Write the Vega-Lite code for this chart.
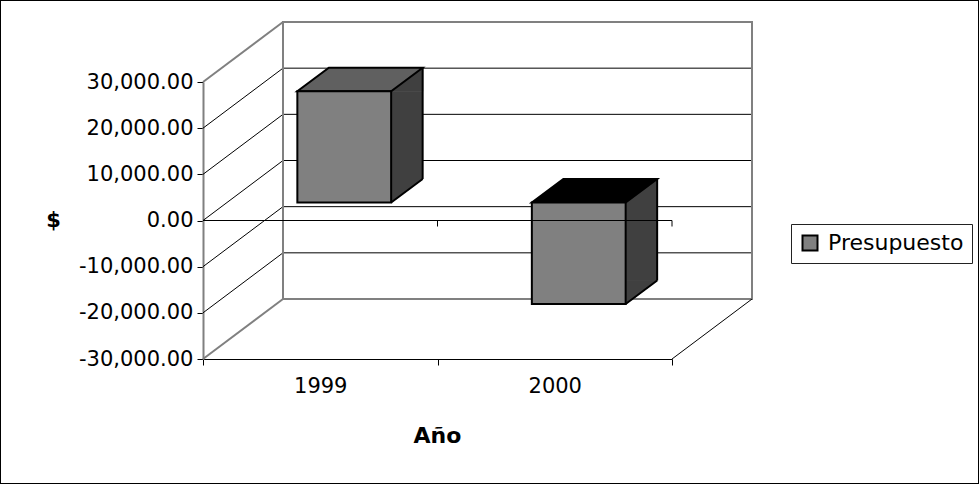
{
  "$schema": "https://vega.github.io/schema/vega-lite/v6.json",
  "width": 979,
  "height": 484,
  "autosize": {"type": "none"},
  "padding": 0,
  "background": "white",
  "datasets": {
    "presupuesto": [
      {"anio": "1999", "valor": 24100, "serie": "Presupuesto"},
      {"anio": "2000", "valor": -22000, "serie": "Presupuesto"}
    ],
    "marcas": [
      {"valor": 30000}, {"valor": 20000}, {"valor": 10000}, {"valor": 0},
      {"valor": -10000}, {"valor": -20000}, {"valor": -30000}
    ]
  },
  "config": {
    "view": {"stroke": "black", "strokeWidth": 2},
    "axisX": {
      "domainColor": "black", "domainWidth": 1, "tickColor": "black", "tickSize": 6,
      "labelFont": "DejaVu Sans", "labelFontSize": 21, "labelColor": "black", "labelPadding": 10, "labelAngle": 0,
      "titleFont": "DejaVu Sans", "titleFontSize": 22, "titleFontWeight": "bold", "titleColor": "black",
      "titleX": 437, "titleY": 83, "titleBaseline": "alphabetic", "titleAlign": "center",
      "offset": -125, "grid": false
    },
    "axisY": {
      "domainColor": "#808080", "domainWidth": 2, "tickColor": "black", "tickSize": 6,
      "labelFont": "DejaVu Sans", "labelFontSize": 21, "labelColor": "black", "labelPadding": 4,
      "titleFont": "DejaVu Sans", "titleFontSize": 21, "titleFontWeight": "bold", "titleColor": "black",
      "titleAngle": 0, "titleX": -150, "titleY": 226, "titleAlign": "center", "titleBaseline": "alphabetic",
      "offset": -203, "grid": false
    },
    "legend": {
      "labelFont": "DejaVu Sans", "labelFontSize": 22, "labelColor": "black",
      "symbolType": "square", "symbolSize": 225, "symbolStrokeColor": "black", "symbolStrokeWidth": 2,
      "strokeColor": "#222222", "fillColor": "white", "padding": 8, "labelOffset": 7
    }
  },
  "layer": [
    {
      "description": "side wall: diagonal lines from the front value axis to the back wall",
      "data": {"name": "marcas"},
      "mark": {"type": "rule", "x2Offset": 80, "y2Offset": -60},
      "encoding": {
        "x": {"datum": "1999", "type": "nominal", "bandPosition": 0,
              "scale": {"type": "band", "domain": ["1999", "2000"], "range": [203, 672], "paddingInner": 0, "paddingOuter": 0}},
        "x2": {"datum": "1999", "bandPosition": 0},
        "y": {"field": "valor", "type": "quantitative",
              "scale": {"domain": [-30000, 30000], "range": [359, 82], "nice": false, "zero": false}},
        "y2": {"field": "valor"},
        "stroke": {"condition": {"test": "abs(datum.valor) == 30000", "value": "#808080"}, "value": "black"},
        "strokeWidth": {"condition": {"test": "abs(datum.valor) == 30000", "value": 2}, "value": 1}
      }
    },
    {
      "description": "back wall gridlines",
      "data": {"name": "marcas"},
      "transform": [{"filter": "abs(datum.valor) < 30000"}],
      "mark": {"type": "rule", "xOffset": 80, "x2Offset": 80, "yOffset": -60, "stroke": "black", "strokeWidth": 1},
      "encoding": {
        "x": {"datum": "1999", "type": "nominal", "bandPosition": 0},
        "x2": {"datum": "2000", "bandPosition": 1},
        "y": {"field": "valor", "type": "quantitative"}
      }
    },
    {
      "description": "back wall frame",
      "data": {"name": "marcas"},
      "transform": [{"filter": "datum.valor == 30000"}],
      "mark": {"type": "rect", "xOffset": 80, "x2Offset": 80, "yOffset": -60, "y2Offset": -60,
               "fill": null, "fillOpacity": 0, "stroke": "#808080", "strokeWidth": 2},
      "encoding": {
        "x": {"datum": "1999", "type": "nominal", "bandPosition": 0},
        "x2": {"datum": "2000", "bandPosition": 1},
        "y": {"field": "valor", "type": "quantitative"},
        "y2": {"datum": -30000}
      }
    },
    {
      "description": "floor: right edge",
      "data": {"name": "marcas"},
      "transform": [{"filter": "datum.valor == -30000"}],
      "mark": {"type": "rule", "x2Offset": 80, "y2Offset": -60, "stroke": "black", "strokeWidth": 1},
      "encoding": {
        "x": {"datum": "2000", "type": "nominal", "bandPosition": 1},
        "x2": {"datum": "2000", "bandPosition": 1},
        "y": {"field": "valor", "type": "quantitative"},
        "y2": {"field": "valor"}
      }
    },
    {
      "description": "side face body, positive columns",
      "data": {"name": "presupuesto"},
      "transform": [{"filter": "datum.valor >= 0"}],
      "mark": {"type": "bar", "width": 31.5, "xOffset": 86.65, "yOffset": -18, "y2Offset": -41.5, "fill": "#404040"},
      "encoding": {
        "x": {"field": "anio", "type": "nominal"},
        "y": {"field": "valor", "type": "quantitative"},
        "y2": {"datum": 0}
      }
    },
    {
      "description": "side face body, negative columns",
      "data": {"name": "presupuesto"},
      "transform": [{"filter": "datum.valor < 0"}],
      "mark": {"type": "bar", "width": 31.5, "xOffset": 86.65, "yOffset": -41.5, "y2Offset": -18, "fill": "#404040"},
      "encoding": {
        "x": {"field": "anio", "type": "nominal"},
        "y": {"field": "valor", "type": "quantitative"},
        "y2": {"datum": 0}
      }
    },
    {
      "description": "side face corners at the value end",
      "data": {"name": "presupuesto"},
      "mark": {"type": "point", "size": 4, "filled": true, "opacity": 1, "fill": "#404040", "stroke": "#404040", "strokeWidth": 1, "xOffset": 24, "yOffset": -18},
      "encoding": {
        "x": {"field": "anio", "type": "nominal"},
        "y": {"field": "valor", "type": "quantitative"},
        "shape": {"condition": {"test": "datum.valor >= 0", "value": "M46.9,0L78.4,-23.5L78.4,0Z"}, "value": "M46.9,-23.5L78.4,-23.5L46.9,0Z"}
      }
    },
    {
      "description": "side face corners at the zero end",
      "data": {"name": "presupuesto"},
      "mark": {"type": "point", "size": 4, "filled": true, "opacity": 1, "fill": "#404040", "stroke": "#404040", "strokeWidth": 1, "xOffset": 24, "yOffset": -18},
      "encoding": {
        "x": {"field": "anio", "type": "nominal"},
        "y": {"datum": 0},
        "shape": {"condition": {"test": "datum.valor >= 0", "value": "M46.9,-23.5L78.4,-23.5L46.9,0Z"}, "value": "M46.9,0L78.4,-23.5L78.4,0Z"}
      }
    },
    {
      "description": "top face, positive columns",
      "data": {"name": "presupuesto"},
      "transform": [{"filter": "datum.valor >= 0"}],
      "mark": {"type": "point", "size": 4, "filled": true, "opacity": 1, "fill": "#606060", "stroke": "black", "strokeWidth": 2, "strokeJoin": "miter",
               "shape": "M-46.9,0L46.9,0L78.4,-23.5L-15.4,-23.5Z", "xOffset": 24, "yOffset": -18},
      "encoding": {
        "x": {"field": "anio", "type": "nominal"},
        "y": {"field": "valor", "type": "quantitative"}
      }
    },
    {
      "description": "top face, negative columns (at zero)",
      "data": {"name": "presupuesto"},
      "transform": [{"filter": "datum.valor < 0"}],
      "mark": {"type": "point", "size": 4, "filled": true, "opacity": 1, "fill": "black", "stroke": "black", "strokeWidth": 2, "strokeJoin": "miter",
               "shape": "M-46.9,0L46.9,0L78.4,-23.5L-15.4,-23.5Z", "xOffset": 24, "yOffset": -18},
      "encoding": {
        "x": {"field": "anio", "type": "nominal"},
        "y": {"datum": 0}
      }
    },
    {
      "description": "front face",
      "data": {"name": "presupuesto"},
      "mark": {"type": "bar", "width": {"band": 0.4}, "xOffset": 24, "yOffset": -18, "y2Offset": -18, "stroke": "black", "strokeWidth": 2},
      "encoding": {
        "x": {"field": "anio", "type": "nominal", "axis": {"title": "Año", "tickBand": "extent"}},
        "y": {"field": "valor", "type": "quantitative",
              "axis": {"title": "$", "values": [-30000, -20000, -10000, 0, 10000, 20000, 30000],
                       "labelExpr": "replace(format(datum.value, ',.2f'), '\u2212', '-')"}},
        "y2": {"datum": 0},
        "color": {"field": "serie", "type": "nominal", "scale": {"range": ["#808080"]},
                  "legend": {"title": null, "orient": "none", "legendX": 791, "legendY": 224}}
      }
    },
    {
      "description": "back vertical edge of the side face",
      "data": {"name": "presupuesto"},
      "mark": {"type": "rule", "xOffset": 102.4, "yOffset": -41.5, "y2Offset": -41.5, "stroke": "black", "strokeWidth": 2},
      "encoding": {
        "x": {"field": "anio", "type": "nominal"},
        "y": {"field": "valor", "type": "quantitative"},
        "y2": {"datum": 0}
      }
    },
    {
      "description": "bottom edge of the side face, positive columns",
      "data": {"name": "presupuesto"},
      "transform": [{"filter": "datum.valor >= 0"}],
      "mark": {"type": "point", "size": 4, "filled": false, "opacity": 1, "fill": null, "stroke": "black", "strokeWidth": 2,
               "shape": "M46.9,0L78.4,-23.5", "xOffset": 24, "yOffset": -18},
      "encoding": {
        "x": {"field": "anio", "type": "nominal"},
        "y": {"datum": 0}
      }
    },
    {
      "description": "bottom edge of the side face, negative columns",
      "data": {"name": "presupuesto"},
      "transform": [{"filter": "datum.valor < 0"}],
      "mark": {"type": "point", "size": 4, "filled": false, "opacity": 1, "fill": null, "stroke": "black", "strokeWidth": 2,
               "shape": "M46.9,0L78.4,-23.5", "xOffset": 24, "yOffset": -18},
      "encoding": {
        "x": {"field": "anio", "type": "nominal"},
        "y": {"field": "valor", "type": "quantitative"}
      }
    },
    {
      "description": "category axis line at zero",
      "data": {"name": "marcas"},
      "transform": [{"filter": "datum.valor == 0"}],
      "mark": {"type": "rule", "stroke": "black", "strokeWidth": 1},
      "encoding": {
        "x": {"datum": "1999", "type": "nominal", "bandPosition": 0},
        "x2": {"datum": "2000", "bandPosition": 1},
        "y": {"field": "valor", "type": "quantitative"}
      }
    },
    {
      "description": "ticks on the zero line",
      "data": {"name": "presupuesto"},
      "mark": {"type": "rule", "y2Offset": 6, "stroke": "black", "strokeWidth": 1},
      "encoding": {
        "x": {"field": "anio", "type": "nominal", "bandPosition": 1},
        "y": {"datum": 0},
        "y2": {"datum": 0}
      }
    }
  ]
}
